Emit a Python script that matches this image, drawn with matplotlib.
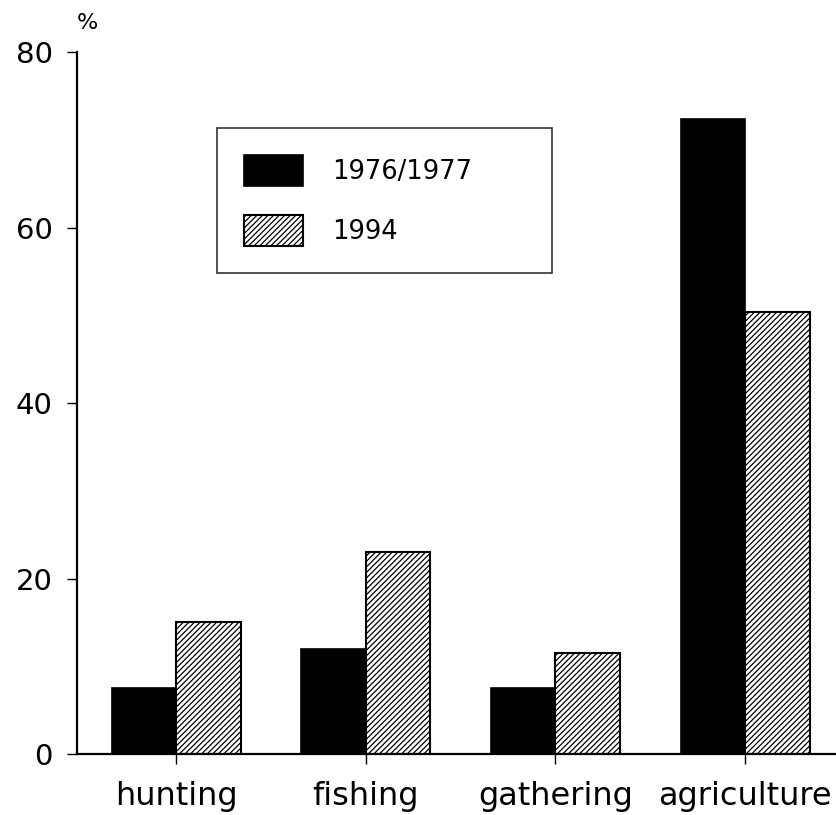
import matplotlib
matplotlib.use("Agg")
import matplotlib.pyplot as plt
import numpy as np

# values (percent)
categories = ["hunting", "fishing", "gathering", "agriculture"]
vals_1976 = [7.5, 12.0, 7.5, 72.4]
vals_1994 = [15.0, 23.0, 11.5, 50.4]
series_labels = ["1976/1977", "1994"]
y_ticks = [0, 20, 40, 60, 80]

plt.rcParams["font.family"] = ["DejaVu Sans"]
plt.rcParams["hatch.linewidth"] = 0.9

fig = plt.figure(figsize=(8.37, 8.15), dpi=100)
ax = fig.add_axes([0.092, 0.0748, 0.907, 0.861])

x = np.arange(len(categories))
w = 0.34
ax.bar(x - w / 2, vals_1976, w, color="black", edgecolor="black",
       linewidth=1.2, label=series_labels[0])
ax.bar(x + w / 2, vals_1994, w, color="white", edgecolor="black",
       hatch="//////", linewidth=1.5, label=series_labels[1])

ax.set_xlim(-0.522, 3.48)
ax.set_ylim(0, 80)
ax.set_yticks(y_ticks)
ax.set_xticks(x)
ax.set_xticklabels(categories, fontsize=23)
ax.tick_params(axis="y", direction="out", length=7.5, width=1.0,
               labelsize=21, pad=10)
ax.tick_params(axis="x", direction="out", length=7.5, width=1.0, pad=12)

for s in ["top", "right"]:
    ax.spines[s].set_visible(False)
for s in ["left", "bottom"]:
    ax.spines[s].set_linewidth(1.6)

fig.text(0.104, 0.972, "%", fontsize=16, ha="center", va="center")

leg = ax.legend(loc="upper left", bbox_to_anchor=(0.184, 0.685, 0.442, 0.207),
                mode="expand", borderaxespad=0, fontsize=18.5, frameon=True,
                fancybox=False, edgecolor="black", handlelength=2.3,
                handleheight=1.47, handletextpad=1.15, labelspacing=1.13,
                borderpad=1.05)
leg.get_frame().set_linewidth(1.2)

fig.savefig("out.png", dpi=100)
